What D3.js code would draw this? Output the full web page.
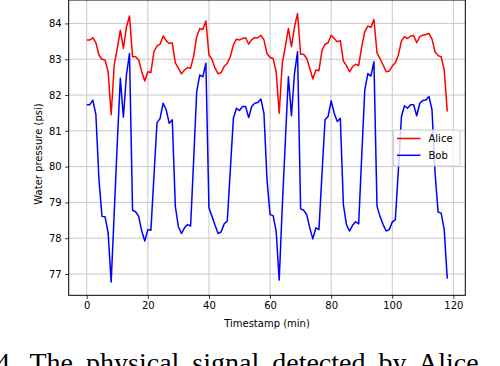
<!DOCTYPE html>
<html>
<head>
<meta charset="utf-8">
<script src="https://cdn.jsdelivr.net/npm/d3@7"></script>
<style>
  html, body { margin: 0; padding: 0; background: #fff; }
  svg { display: block; }
  text { font-family: "DejaVu Sans", sans-serif; }
</style>
</head>
<body>
<svg id="chart" width="500" height="366"></svg>
<script>
const xTicks = [0, 20, 40, 60, 80, 100, 120];
const yTicks = [77, 78, 79, 80, 81, 82, 83, 84];
const seriesNames = ["Alice", "Bob"];
const seriesColors = ["#ff0000", "#0000ff"];

const alice = [
  83.54, 83.54, 83.6, 83.46, 83.12, 83.0, 82.98, 82.65, 81.45, 82.84,
  83.3, 83.81, 83.3, 83.9, 84.21, 83.07, 83.07, 82.98, 82.65, 82.39,
  82.65, 82.63, 83.21, 83.37, 83.42, 83.65, 83.52, 83.44, 83.46, 82.9,
  82.75, 82.59, 82.7, 82.77, 82.75, 83.09, 83.63, 83.86, 83.83,
  84.07, 83.12, 83.0, 82.75, 82.59, 82.63, 82.8, 82.89, 83.07, 83.4,
  83.56, 83.54, 83.58, 83.6, 83.42, 83.55, 83.6, 83.6, 83.67, 83.54,
  83.16, 83.05, 83.02, 82.65, 81.49, 82.89, 83.35, 83.86, 83.35, 83.9,
  84.28, 83.14, 83.14, 83.02, 82.75, 82.45, 82.7, 82.68, 83.25, 83.42,
  83.46, 83.67, 83.58,
  83.49, 83.52, 82.95, 82.82, 82.65, 82.79, 82.86, 82.82, 83.35, 83.77,
  83.93, 83.89, 84.11, 83.18, 83.02, 82.84, 82.65, 82.67, 82.81, 82.9,
  83.12, 83.51, 83.63, 83.58, 83.65, 83.66, 83.46, 83.63, 83.67, 83.69,
  83.72, 83.56, 83.21, 83.1, 83.07, 82.7, 81.54
];

const bob = [
  81.73, 81.73, 81.86, 81.45, 79.64, 78.61, 78.6, 78.15, 76.78, 78.7,
  80.66, 82.47, 81.38, 82.56, 83.16, 78.78, 78.74, 78.61, 78.2, 77.92,
  78.24, 78.22, 79.73, 81.23, 81.34, 81.77, 81.59, 81.21, 81.31, 78.89,
  78.32, 78.13, 78.29, 78.38, 78.34, 80.2, 82.1, 82.56, 82.51,
  82.89, 78.85, 78.61, 78.36, 78.13, 78.18, 78.4, 78.48, 79.91, 81.35,
  81.63, 81.57, 81.68, 81.68, 81.37, 81.68, 81.77, 81.79, 81.89, 81.49,
  79.64, 78.66, 78.63, 78.2, 76.83, 78.89, 80.7, 82.51, 81.42, 82.6,
  83.21, 78.82, 78.78, 78.66, 78.29, 77.98, 78.29, 78.24, 79.8, 81.31,
  81.4, 81.84, 81.49,
  81.26, 81.35, 78.94, 78.38, 78.2, 78.36, 78.46, 78.4, 80.29, 82.14,
  82.6, 82.53, 82.93, 78.89, 78.61, 78.38, 78.2, 78.24, 78.45, 78.52,
  79.91, 81.4, 81.7, 81.63, 81.73, 81.73, 81.42, 81.77, 81.85, 81.86,
  81.96, 81.59, 79.82, 78.73, 78.7, 78.24, 76.87
];

const timestamps = alice.map((_, i) => i);
const series = [alice, bob];

const svg = d3.select("#chart");
const plotLeft = 68.7, plotRight = 465.3, plotTop = 0, plotBottom = 295.3;

// matplotlib-style 5% margins
const xExt = d3.extent(timestamps);
const xPad = (xExt[1] - xExt[0]) * 0.05;
const allY = alice.concat(bob);
const yExt = d3.extent(allY);
const yPad = (yExt[1] - yExt[0]) * 0.05;

const x = d3.scaleLinear().domain([xExt[0] - xPad, xExt[1] + xPad]).range([plotLeft, plotRight]);
const y = d3.scaleLinear().domain([yExt[0] - yPad, yExt[1] + yPad]).range([plotBottom, plotTop]);

// grid
const grid = svg.append("g");
grid.selectAll(".gx").data(xTicks).join("line")
  .attr("x1", d => x(d)).attr("x2", d => x(d))
  .attr("y1", plotTop).attr("y2", plotBottom)
  .attr("stroke", "#c8c8c8").attr("stroke-width", 1);
grid.selectAll(".gy").data(yTicks).join("line")
  .attr("x1", plotLeft).attr("x2", plotRight)
  .attr("y1", d => y(d)).attr("y2", d => y(d))
  .attr("stroke", "#c8c8c8").attr("stroke-width", 1);

// lines
const line = d3.line().x((d, i) => x(timestamps[i])).y(d => y(d));
series.forEach((s, k) => {
  svg.append("path").datum(s)
    .attr("d", line)
    .attr("fill", "none")
    .attr("stroke", seriesColors[k])
    .attr("stroke-width", 1.5)
    .attr("stroke-linejoin", "round");
});

// axes
const xAxis = d3.axisBottom(x).tickValues(xTicks).tickSize(3.5).tickPadding(3.5).tickFormat(d3.format("d"));
const yAxis = d3.axisLeft(y).tickValues(yTicks).tickSize(3.5).tickPadding(3.5).tickFormat(d3.format("d"));

const gx = svg.append("g").attr("transform", `translate(0,${plotBottom})`).call(xAxis);
const gy = svg.append("g").attr("transform", `translate(${plotLeft},0)`).call(yAxis);
[gx, gy].forEach(g => {
  g.select(".domain").remove();
  g.selectAll(".tick line").attr("stroke", "#000").attr("stroke-width", 0.8);
  g.selectAll(".tick text").attr("fill", "#000").style("font-size", "10px")
    .style("font-family", "'DejaVu Sans', sans-serif");
});

// frame
svg.append("rect")
  .attr("x", plotLeft).attr("y", plotTop)
  .attr("width", plotRight - plotLeft).attr("height", plotBottom - plotTop)
  .attr("fill", "none").attr("stroke", "#000").attr("stroke-width", 1);

// labels
svg.append("text")
  .attr("x", (plotLeft + plotRight) / 2).attr("y", 327)
  .attr("text-anchor", "middle").style("font-size", "10px")
  .text("Timestamp (min)");
svg.append("text")
  .attr("transform", "translate(41.5,154) rotate(-90)")
  .attr("text-anchor", "middle").style("font-size", "10px")
  .text("Water pressure (psi)");

// legend
const lg = svg.append("g");
lg.append("rect")
  .attr("x", 393.5).attr("y", 130).attr("width", 66.5).attr("height", 36)
  .attr("rx", 2).attr("fill", "#fff").attr("fill-opacity", 0.8)
  .attr("stroke", "#cccccc").attr("stroke-width", 1);
seriesNames.forEach((name, k) => {
  const yy = 138.5 + k * 16.8;
  lg.append("line")
    .attr("x1", 397).attr("x2", 420.5).attr("y1", yy).attr("y2", yy)
    .attr("stroke", seriesColors[k]).attr("stroke-width", 1.5);
  lg.append("text")
    .attr("x", 428.5).attr("y", yy + 3.6)
    .style("font-size", "10px").text(name);
});

// caption fragment (cropped at bottom of the image, as in the source page)
svg.append("text")
  .attr("x", -4).attr("y", 372)
  .style("font-family", "'Liberation Serif', serif")
  .style("font-size", "28px")
  .style("word-spacing", "6px")
  .text("4. The physical signal detected by Alice");
</script>
</body>
</html>
